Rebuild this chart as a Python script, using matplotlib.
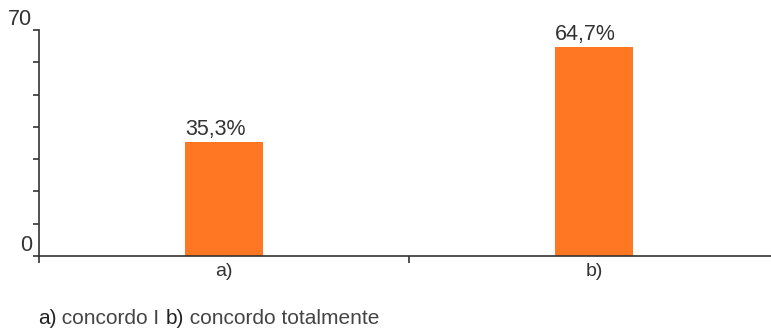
import matplotlib
matplotlib.use("Agg")
import matplotlib.pyplot as plt

categories = ["a)", "b)"]
values = [35.3, 64.7]
value_labels = ["35,3%", "64,7%"]
y_ticks_labels = {0: "0", 70: "70"}

plt.rcParams['font.family'] = ['Liberation Sans', 'DejaVu Sans']
text_color = "#333333"
bar_color = "#FF7722"

fig = plt.figure(figsize=(7.71, 3.29), dpi=100)
ax = fig.add_axes([39/771, (329-256)/329, 1 - 39/771, (256-30)/329])

x = list(range(len(categories)))
bar_w = 0.21
ax.bar(x, values, width=bar_w, color=bar_color, zorder=2)
for xi, v, lab in zip(x, values, value_labels):
    ax.text(xi - bar_w / 2, v + 0.6, lab, ha="left", va="bottom", fontsize=15.5,
            color=text_color)

ax.set_xlim(-0.5, 1.478)
ax.set_ylim(0, 70)

for s in ["top", "right"]:
    ax.spines[s].set_visible(False)
for s in ["left", "bottom"]:
    ax.spines[s].set_color("#333333")
    ax.spines[s].set_linewidth(1.2)

ax.set_yticks(list(range(0, 71, 10)))
ax.set_yticklabels([y_ticks_labels.get(t, "") for t in range(0, 71, 10)])
ax.tick_params(axis="y", length=4, width=1.2, color="#333333", labelsize=15.5,
               labelcolor=text_color, pad=1)
for lbl in ax.get_yticklabels():
    lbl.set_verticalalignment("bottom")

# category labels at centers, ticks at boundaries
ax.set_xticks([-0.5, 0.5])
ax.set_xticklabels([])
ax.tick_params(axis="x", length=5, width=1.2, color="#333333")
for xi, c in zip(x, categories):
    ax.text(xi, -2.3, c, ha="center", va="top", fontsize=14, color=text_color,
            transform=ax.transData, clip_on=False)

# caption
parts = [("a)", "#222222"), (" concordo I ", "#444444"),
         ("b)", "#222222"), (" concordo totalmente", "#444444")]
fig.canvas.draw()
renderer = fig.canvas.get_renderer()
xpos = 38 / 771
for txt, col in parts:
    t = fig.text(xpos, 1 - 319/329, txt, fontsize=15, color=col,
                 ha="left", va="center")
    bb = t.get_window_extent(renderer=renderer)
    xpos += bb.width / fig.bbox.width

fig.savefig("out.png", dpi=100)
